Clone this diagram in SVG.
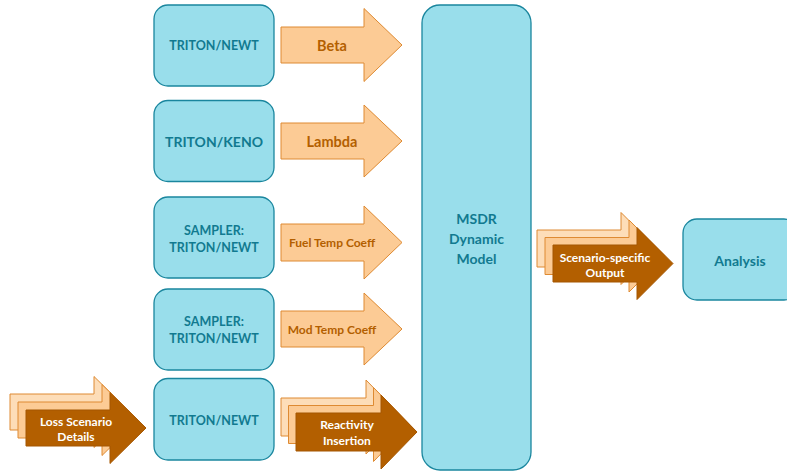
<svg xmlns="http://www.w3.org/2000/svg" width="787" height="472" viewBox="0 0 787 472">
<style>
.box{fill:#99DEEB;stroke:#1A869E;stroke-width:1.3}
.bt{font-family:Lato,"Open Sans","Liberation Sans",sans-serif;font-weight:bold;fill:#117A90;text-anchor:middle;dominant-baseline:central}
.la{fill:#FCCB95;stroke:#DE8A32;stroke-width:1}
.lb{fill:#FDDDB8;stroke:#DE8A32;stroke-width:1}
.da{fill:#B35F00;stroke:#A55600;stroke-width:1}
.at{font-family:Lato,"Open Sans","Liberation Sans",sans-serif;font-weight:bold;fill:#B35F00;text-anchor:middle;dominant-baseline:central}
.wt{font-family:Lato,"Open Sans","Liberation Sans",sans-serif;font-weight:bold;fill:#FFFFFF;text-anchor:middle;dominant-baseline:central;font-size:12px}
</style>
<rect width="787" height="472" fill="#FFFFFF"/>
<g id="connectors">
  <g id="arrow-beta">
    <path class="la" d="M281,27 H364 V8.5 L402,45 L364,81.5 V63 H281 Z"/>
    <text class="at" x="332" y="45" font-size="14.5">Beta</text>
  </g>
  <g id="arrow-lambda">
    <path class="la" d="M281,123 H364 V105 L402,141 L364,177 V159 H281 Z"/>
    <text class="at" x="332" y="141" font-size="14.5">Lambda</text>
  </g>
  <g id="arrow-fuel">
    <path class="la" d="M281,224 H364 V206 L402,242.5 L364,279 V261 H281 Z"/>
    <text class="at" x="332" y="242.5" font-size="12">Fuel Temp Coeff</text>
  </g>
  <g id="arrow-mod">
    <path class="la" d="M281,311 H364 V293 L402,329 L364,365 V347 H281 Z"/>
    <text class="at" x="332" y="329" font-size="12">Mod Temp Coeff</text>
  </g>
  <g id="arrow-loss">
    <path class="lb" d="M10,394 H94 V376.5 L130,412 L94,447.5 V430 H10 Z"/>
    <path class="la" d="M18,402 H102 V384.5 L138,420 L102,455.5 V438 H18 Z"/>
    <path class="da" d="M26,410 H110 V392.5 L146,428 L110,463.5 V446 H26 Z"/>
    <text class="wt" x="76" y="421">Loss Scenario</text>
    <text class="wt" x="76" y="436">Details</text>
  </g>
  <g id="arrow-reactivity">
    <path class="lb" d="M281,398 H366 V380 L402,417 L366,454 V436 H281 Z"/>
    <path class="la" d="M288.5,405.5 H373.5 V387.5 L409.5,424.5 L373.5,461.5 V443.5 H288.5 Z"/>
    <path class="da" d="M296,413 H381 V395 L417,432 L381,469 V451 H296 Z"/>
    <text class="wt" x="347" y="424">Reactivity</text>
    <text class="wt" x="347" y="440">Insertion</text>
  </g>
  <g id="arrow-output">
    <path class="lb" d="M537,230 H621 V212.5 L657,248.5 L621,284.5 V267 H537 Z"/>
    <path class="la" d="M545,237.5 H629 V220 L665,256 L629,292 V274.5 H545 Z"/>
    <path class="da" d="M553,245 H637 V227.5 L673,263.5 L637,299.5 V282 H553 Z"/>
    <text class="wt" x="605" y="257">Scenario-specific</text>
    <text class="wt" x="605" y="272">Output</text>
  </g>
</g>
<g id="node-newt1">
  <rect class="box" x="154" y="5" width="120" height="81" rx="14"/>
  <text class="bt" x="214" y="45.5" font-size="12.5">TRITON/NEWT</text>
</g>
<g id="node-keno">
  <rect class="box" x="154" y="100.5" width="120" height="81" rx="14"/>
  <text class="bt" x="214" y="141" font-size="14">TRITON/KENO</text>
</g>
<g id="node-sampler1">
  <rect class="box" x="154" y="197" width="120" height="81" rx="14"/>
  <text class="bt" x="214" y="230" font-size="12.5">SAMPLER:</text>
  <text class="bt" x="214" y="247" font-size="12.5">TRITON/NEWT</text>
</g>
<g id="node-sampler2">
  <rect class="box" x="154" y="289" width="120" height="81" rx="14"/>
  <text class="bt" x="214" y="321" font-size="12.5">SAMPLER:</text>
  <text class="bt" x="214" y="338" font-size="12.5">TRITON/NEWT</text>
</g>
<g id="node-newt2">
  <rect class="box" x="154" y="378.5" width="120" height="81.5" rx="14"/>
  <text class="bt" x="214" y="420" font-size="12.5">TRITON/NEWT</text>
</g>
<g id="node-msdr">
  <rect class="box" x="422" y="5" width="109" height="465" rx="18"/>
  <text class="bt" x="476.5" y="218" font-size="14">MSDR</text>
  <text class="bt" x="476.5" y="238" font-size="14">Dynamic</text>
  <text class="bt" x="476.5" y="258" font-size="14">Model</text>
</g>
<g id="node-analysis">
  <rect class="box" x="683" y="219" width="115" height="81" rx="14"/>
  <text class="bt" x="740" y="260" font-size="14">Analysis</text>
</g>
</svg>
